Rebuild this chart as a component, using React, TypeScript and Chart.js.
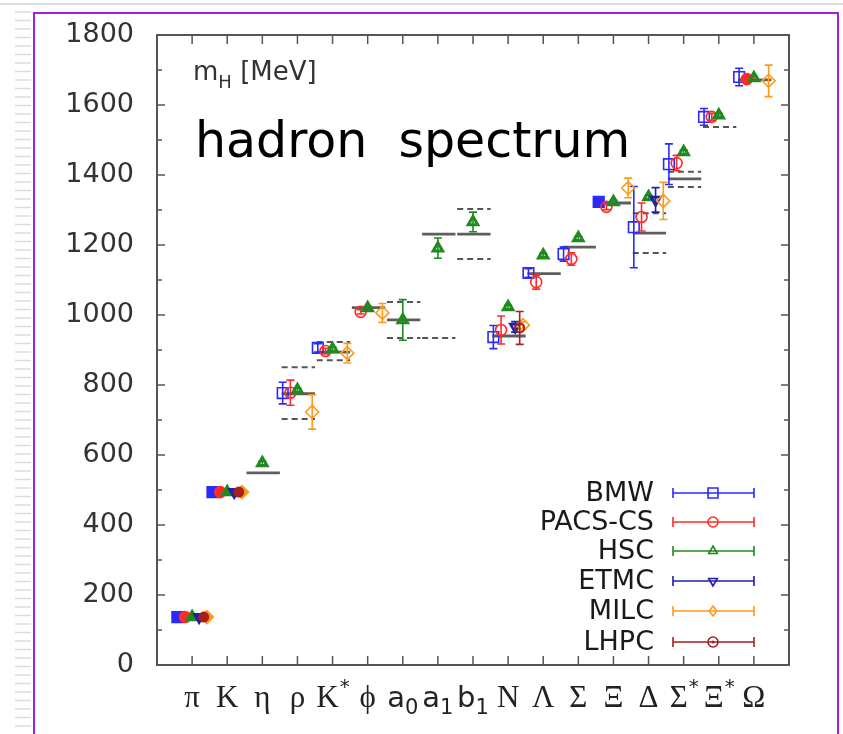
import React, { useEffect, useRef } from 'react';
import { Chart, registerables } from 'chart.js';

Chart.register(...registerables);

// ---------- data ----------
const labelBase = ['π', 'K', 'η', 'ρ', 'K', 'ϕ', 'a', 'a', 'b', 'N', 'Λ', 'Σ', 'Ξ', 'Δ', 'Σ', 'Ξ', 'Ω'];
const labelSub = ['', '', '', '', '', '', '0', '1', '1', '', '', '', '', '', '', '', ''];
const labelSup = ['', '', '', '', '*', '', '', '', '', '', '', '', '', '', '*', '*', ''];
const labelSans = [false, false, false, false, false, false, true, true, true, false, false, false, false, false, false, false, false];

const yTicks = [0, 200, 400, 600, 800, 1000, 1200, 1400, 1600, 1800];

// experimental masses (solid) and widths (dashed)
const expMass = [138, 495, 549, 775, 894, 1021, 986, 1231, 1231, 940, 1118, 1194, 1320, 1234, 1389, null, 1672];
const widthLow = [null, null, null, 703, 871, null, 934, 934, 1160, null, null, null, null, 1177, 1366, 1537, null];
const widthHigh = [null, null, null, 851, 923, null, 1037, null, 1303, null, null, null, null, 1291, 1409, null, null];

const bmwMass = [137, 494, null, 777, 906, null, null, null, null, 937, 1120, 1174, 1323, 1251, 1431, 1566, 1680];
const bmwErr = [0, 0, null, 31, 12, null, null, null, null, 33, 12, 20, 0, 116, 58, 24, 25];
const bmwFilled = ['π', 'K', 'Ξ'];

const pacsMass = [137, 494, null, 778, 897, 1009, null, null, null, 957, 1094, 1160, 1309, 1280, 1434, 1566, 1674];
const pacsErr = [0, 0, null, 36, 8, 6, null, null, null, 40, 20, 18, 8, 40, 22, 10, 0];
const pacsFilled = ['π', 'K', 'Ω'];

const hscMass = [137, 494, 577, 786, 903, 1020, 986, 1191, 1266, 1023, 1171, 1220, 1323, 1337, 1466, 1571, 1677];
const hscErr = [0, 0, 5, 5, 5, 5, 58, 29, 28, 5, 5, 5, 5, 5, 5, 5, 5];
const hscFilled = ['π', 'K'];

const etmcMass = [137, 494, null, null, null, null, null, null, null, 966, null, null, null, 1329, null, null, null];
const etmcErr = [0, 0, null, null, null, null, null, null, null, 15, null, null, null, 35, null, null, null];
const etmcFilled = ['π', 'K'];

const milcMass = [137, 494, null, 723, 891, 1006, null, null, null, 971, null, null, 1363, 1326, null, null, 1669];
const milcErr = [0, 0, null, 49, 28, 27, null, null, null, 10, null, null, 28, 53, null, null, 45];
const milcFilled = ['π', 'K'];

const lhpcMass = [137, 494, null, null, null, null, null, null, null, 963, null, null, null, null, null, null, null];
const lhpcErr = [0, 0, null, null, null, null, null, null, null, 47, null, null, null, null, null, null, null];
const lhpcFilled = ['π', 'K'];

const collabNames = ['BMW', 'PACS-CS', 'HSC', 'ETMC', 'MILC', 'LHPC'];

// ---------- styles ----------
const collabs = [
  { name: collabNames[0], mass: bmwMass, err: bmwErr, filled: bmwFilled, color: '#2a2aff', style: 'rect', r: 7.5, rot: 0, off: -0.42, lw: 1.6 },
  { name: collabNames[1], mass: pacsMass, err: pacsErr, filled: pacsFilled, color: '#ff2a2a', style: 'circle', r: 5.5, rot: 0, off: -0.2, lw: 1.6 },
  { name: collabNames[2], mass: hscMass, err: hscErr, filled: hscFilled, color: '#1f8a1f', style: 'triangle', r: 5.5, rot: 0, off: 0, lw: 3 },
  { name: collabNames[3], mass: etmcMass, err: etmcErr, filled: etmcFilled, color: '#1f1fa8', style: 'triangle', r: 5.5, rot: 180, off: 0.2, lw: 2.6 },
  { name: collabNames[4], mass: milcMass, err: milcErr, filled: milcFilled, color: '#ff9a1a', style: 'rectRot', r: 6.5, rot: 0, off: 0.42, lw: 1.6 },
  { name: collabNames[5], mass: lhpcMass, err: lhpcErr, filled: lhpcFilled, color: '#a81f1f', style: 'circle', r: 4.5, rot: 0, off: 0.33, lw: 2 },
];

function segData(vals: (number | null)[], x0: number, x1: number) {
  const out: any[] = [];
  vals.forEach((v, i) => {
    if (v == null) return;
    out.push({ x: i + 1 + x0, y: v });
    out.push({ x: i + 1 + x1, y: v });
    out.push({ x: i + 1 + x1 + 0.001, y: null });
  });
  return out;
}

function drawMarker(ctx: CanvasRenderingContext2D, style: string, x: number, y: number, r: number, rot: number, color: string, fill: boolean, lw: number) {
  ctx.save();
  ctx.strokeStyle = color;
  ctx.fillStyle = color;
  ctx.lineWidth = lw;
  ctx.beginPath();
  if (style === 'rect') {
    const s = r * Math.SQRT1_2;
    ctx.rect(x - s, y - s, 2 * s, 2 * s);
  } else if (style === 'circle') {
    ctx.arc(x, y, r, 0, Math.PI * 2);
  } else if (style === 'triangle') {
    const a = rot === 180 ? Math.PI : 0;
    for (let k = 0; k < 3; k++) {
      const ang = a - Math.PI / 2 + (k * 2 * Math.PI) / 3;
      const px = x + r * Math.cos(ang), py = y + r * Math.sin(ang);
      if (k === 0) ctx.moveTo(px, py); else ctx.lineTo(px, py);
    }
    ctx.closePath();
  } else if (style === 'rectRot') {
    ctx.moveTo(x, y - r);
    ctx.lineTo(x + r * 0.75, y);
    ctx.lineTo(x, y + r);
    ctx.lineTo(x - r * 0.75, y);
    ctx.closePath();
  }
  if (fill) ctx.fill();
  ctx.stroke();
  ctx.restore();
}

const decorPlugin = {
  id: 'decor',
  beforeDraw(chart: any) {
    const ctx = chart.ctx as CanvasRenderingContext2D;
    ctx.save();
    ctx.fillStyle = '#ffffff';
    ctx.fillRect(0, 0, chart.width, chart.height);
    ctx.strokeStyle = '#dcdcdc';
    ctx.lineWidth = 2;
    ctx.beginPath();
    ctx.moveTo(0, 4);
    ctx.lineTo(chart.width, 4);
    ctx.stroke();
    ctx.lineWidth = 1.5;
    for (let y = 12; y < chart.height; y += 8.5) {
      ctx.beginPath();
      ctx.moveTo(15, y);
      ctx.lineTo(31, y);
      ctx.stroke();
    }
    ctx.strokeStyle = '#a21fe3';
    ctx.lineWidth = 2;
    ctx.beginPath();
    ctx.moveTo(34, chart.height + 5);
    ctx.lineTo(34, 13);
    ctx.lineTo(838, 13);
    ctx.lineTo(838, chart.height + 5);
    ctx.stroke();
    ctx.restore();
  },
};

const errorBarPlugin = {
  id: 'errorBars',
  beforeDatasetDraw(chart: any, args: any) {
    const ds = chart.data.datasets[args.index];
    if (!ds.isCollab) return;
    const ctx = chart.ctx as CanvasRenderingContext2D;
    const ys = chart.scales.y;
    ctx.save();
    ctx.strokeStyle = ds.borderColor;
    ctx.lineWidth = 1.6;
    args.meta.data.forEach((el: any, j: number) => {
      const raw = ds.data[j];
      if (!raw || !raw.e) return;
      const x = el.x;
      const y1 = ys.getPixelForValue(raw.y + raw.e);
      const y2 = ys.getPixelForValue(raw.y - raw.e);
      ctx.beginPath();
      ctx.moveTo(x, y1); ctx.lineTo(x, y2);
      ctx.moveTo(x - 4, y1); ctx.lineTo(x + 4, y1);
      ctx.moveTo(x - 4, y2); ctx.lineTo(x + 4, y2);
      ctx.stroke();
    });
    ctx.restore();
  },
};

const framePlugin = {
  id: 'frame',
  afterDraw(chart: any) {
    const ctx = chart.ctx as CanvasRenderingContext2D;
    const { left, right, top, bottom } = chart.chartArea;
    const xs = chart.scales.x, ys = chart.scales.y;
    ctx.save();
    // frame
    ctx.strokeStyle = '#555';
    ctx.lineWidth = 2;
    ctx.strokeRect(left, top, right - left, bottom - top);
    // y ticks inward
    ctx.lineWidth = 1.5;
    for (let v = 0; v <= 1800; v += 100) {
      const y = ys.getPixelForValue(v);
      const len = v % 200 === 0 ? 8 : 5;
      ctx.beginPath();
      ctx.moveTo(left, y); ctx.lineTo(left + len, y);
      ctx.moveTo(right, y); ctx.lineTo(right - len, y);
      ctx.stroke();
    }
    // x ticks inward
    for (let i = 1; i <= labelBase.length; i++) {
      const x = xs.getPixelForValue(i);
      ctx.beginPath();
      ctx.moveTo(x, bottom); ctx.lineTo(x, bottom - 9);
      ctx.moveTo(x, top); ctx.lineTo(x, top + 9);
      ctx.stroke();
    }
    // category labels
    ctx.fillStyle = '#222';
    ctx.textBaseline = 'alphabetic';
    ctx.textAlign = 'left';
    const base = bottom + 42;
    labelBase.forEach((b, i) => {
      const x = xs.getPixelForValue(i + 1);
      const mainFont = labelSans[i] ? '29px "DejaVu Sans"' : '31px "Liberation Serif"';
      const smallFont = labelSans[i] ? '21px "DejaVu Sans"' : '20px "DejaVu Sans"';
      ctx.font = mainFont;
      const wb = ctx.measureText(b).width;
      ctx.font = smallFont;
      const ws = ctx.measureText(labelSub[i] || labelSup[i]).width;
      const start = x - (wb + ws) / 2;
      ctx.font = mainFont;
      ctx.fillText(b, start, base);
      ctx.font = smallFont;
      if (labelSub[i]) ctx.fillText(labelSub[i], start + wb, base + 7);
      if (labelSup[i]) ctx.fillText(labelSup[i], start + wb + 1, base - 14);
    });
    // axis annotation
    ctx.fillStyle = '#333';
    ctx.font = '26px "DejaVu Sans"';
    ctx.fillText('m', left + 36, top + 45);
    const wm = ctx.measureText('m').width;
    ctx.font = '18px "DejaVu Sans"';
    ctx.fillText('H', left + 36 + wm, top + 53);
    const wh = ctx.measureText('H').width;
    ctx.font = '26px "DejaVu Sans"';
    ctx.fillText(' [MeV]', left + 36 + wm + wh, top + 45);
    // title
    ctx.fillStyle = '#000';
    ctx.font = '49px "DejaVu Sans"';
    ctx.fillText('hadron  spectrum', left + 38, top + 122);
    // legend
    const rows = [493, 522, 551, 581, 611, 642];
    collabs.forEach((c, k) => {
      const y = rows[k];
      ctx.fillStyle = '#1a1a1a';
      ctx.font = '27px "DejaVu Sans"';
      ctx.textAlign = 'right';
      ctx.textBaseline = 'middle';
      ctx.fillText(c.name, 654, y + 1);
      ctx.strokeStyle = c.color;
      ctx.lineWidth = 1.6;
      ctx.beginPath();
      ctx.moveTo(673, y); ctx.lineTo(754, y);
      ctx.moveTo(673, y - 5); ctx.lineTo(673, y + 5);
      ctx.moveTo(754, y - 5); ctx.lineTo(754, y + 5);
      ctx.stroke();
      drawMarker(ctx, c.style, 713, y, c.style === 'rect' ? 7 : 5, c.rot, c.color, false, 1.6);
      if (k === 5) {
        ctx.fillStyle = c.color;
        ctx.beginPath(); ctx.arc(713, y, 1.5, 0, Math.PI * 2); ctx.fill();
      }
    });
    ctx.restore();
  },
};

export default function App() {
  const ref = useRef<HTMLCanvasElement>(null);
  useEffect(() => {
    const datasets: any[] = [];
    datasets.push({
      label: 'exp', data: segData(expMass, -0.45, 0.5), showLine: true, pointRadius: 0,
      borderColor: '#5e5e5e', borderWidth: 2.8, spanGaps: false, order: 20,
    });
    datasets.push({
      label: 'widthLow', data: segData(widthLow, -0.45, 0.5), showLine: true, pointRadius: 0,
      borderColor: '#555', borderWidth: 2, borderDash: [6, 4], spanGaps: false, order: 19,
    });
    datasets.push({
      label: 'widthHigh', data: segData(widthHigh, -0.45, 0.5), showLine: true, pointRadius: 0,
      borderColor: '#555', borderWidth: 2, borderDash: [6, 4], spanGaps: false, order: 18,
    });
    collabs.forEach((c, k) => {
      const data: any[] = [];
      c.mass.forEach((m, i) => {
        if (m == null) return;
        data.push({ x: i + 1 + c.off, y: m, e: c.err[i] || 0, f: c.filled.includes(labelBase[i] + labelSup[i] + labelSub[i]) });
      });
      datasets.push({
        label: c.name, data, isCollab: true, showLine: false,
        borderColor: c.color,
        pointBorderColor: c.color,
        pointBackgroundColor: (ctx: any) => (ctx.raw && ctx.raw.f ? c.color : 'rgba(255,255,255,0)'),
        pointStyle: c.style, pointRadius: c.r, pointRotation: c.rot, pointBorderWidth: c.lw,
        order: 10 - k,
      });
    });
    const chart = new Chart(ref.current!, {
      type: 'scatter',
      data: { datasets },
      options: {
        animation: false,
        responsive: false,
        events: [],
        layout: { padding: { left: 0, right: 54, top: 35, bottom: 69 } },
        plugins: { legend: { display: false }, tooltip: { enabled: false } },
        scales: {
          x: { type: 'linear', min: 0, max: 18, display: false },
          y: {
            type: 'linear', min: 0, max: 1800,
            afterFit: (s: any) => { s.width = 157; },
            afterBuildTicks: (s: any) => { s.ticks = yTicks.map((v) => ({ value: v })); },
            grid: { display: false },
            border: { display: false },
            ticks: {
              padding: 15, color: '#333', font: { family: 'DejaVu Sans', size: 27 },
              callback: (v: any) => String(v),
            },
          },
        },
      } as any,
      plugins: [decorPlugin, errorBarPlugin, framePlugin],
    });
    return () => chart.destroy();
  }, []);
  return (
    <div style={{ position: 'absolute', left: 0, top: 0, width: 843, height: 734 }}>
      <canvas ref={ref} width={843} height={734} />
    </div>
  );
}
